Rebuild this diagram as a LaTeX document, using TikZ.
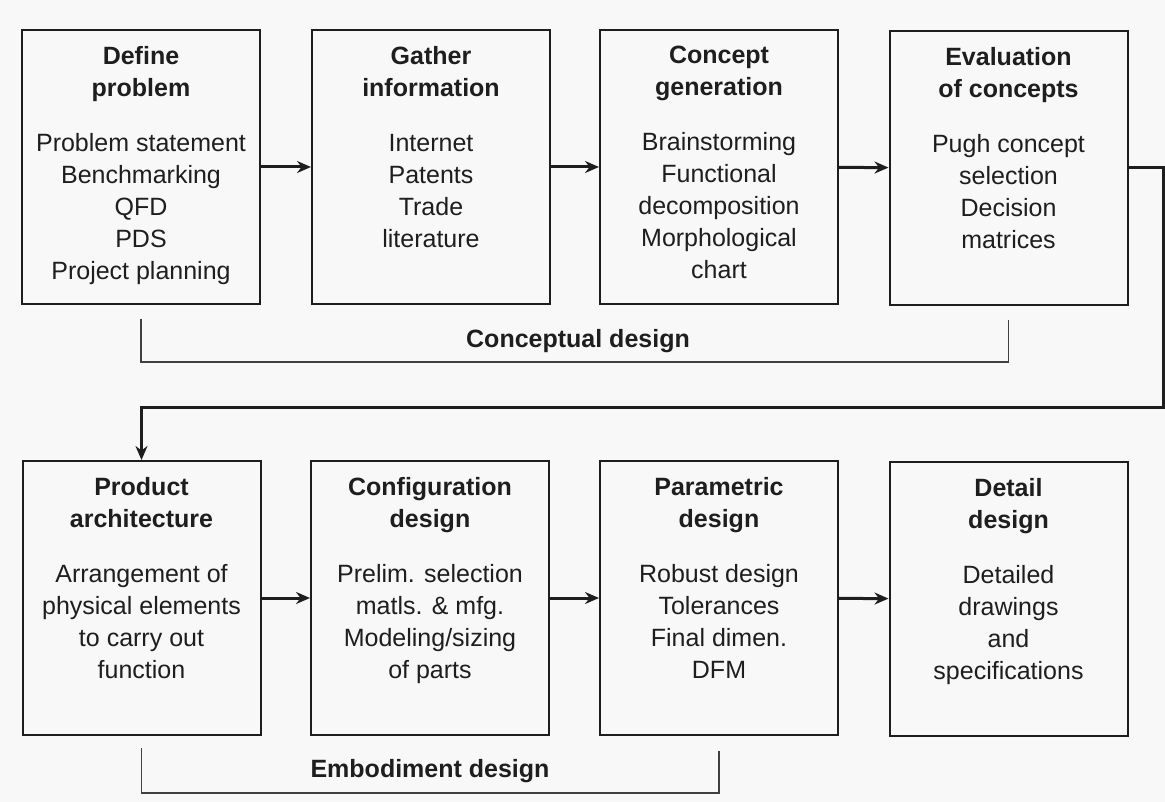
\documentclass[tikz,border=0pt]{standalone}
\usepackage{fontspec}
\setmainfont{Liberation Sans}
\usetikzlibrary{arrows.meta}
\definecolor{ink}{HTML}{1E1E1E}
\definecolor{paper}{HTML}{F8F8F8}
\begin{document}
\begin{tikzpicture}[x=1pt,y=-1pt,
  stepbox/.style={draw=ink, line width=2pt, minimum width=238pt, minimum height=274pt, inner sep=0pt},
  boxtext/.style={anchor=north, align=center, inner sep=0pt, text=ink,
    font=\fontsize{25}{32}\selectfont},
  phase/.style={inner sep=0pt, text=ink, font=\fontsize{25}{32}\selectfont\bfseries},
  flow/.style={draw=ink, line width=3pt, -{Stealth[length=14pt,width=12pt]}},
  bracket/.style={draw=ink!85, line width=1.6pt}]

% page
\fill[paper] (0,0) rectangle (1165,802);
\useasboundingbox (0,0) rectangle (1165,802);

% boxes, conceptual row
\node[stepbox] (b1) at (141,167) {};
\node[stepbox] (b2) at (431,167) {};
\node[stepbox] (b3) at (719,167) {};
\node[stepbox] (b4) at (1008.5,168) {};
% boxes, embodiment / detail row
\node[stepbox] (b5) at (141.5,598) {};
\node[stepbox] (b6) at (430,598) {};
\node[stepbox] (b7) at (719,598) {};
\node[stepbox] (b8) at (1008.5,599) {};

% box contents
\node[boxtext] (t1) at ([yshift=-17pt]b1.north)
  {\textbf{Define}\\\textbf{problem}\\[23pt]Problem statement\\Benchmarking\\QFD\\PDS\\Project planning};
\node[boxtext] (t2) at ([yshift=-17pt]b2.north)
  {\textbf{Gather}\\\textbf{information}\\[23pt]Internet\\Patents\\Trade\\literature};
\node[boxtext] (t3) at ([yshift=-17pt]b3.north)
  {\textbf{Concept}\\\textbf{generation}\\[23pt]Brainstorming\\Functional\\decomposition\\Morphological\\chart};
\node[boxtext] (t4) at ([yshift=-17pt]b4.north)
  {\textbf{Evaluation}\\\textbf{of concepts}\\[23pt]Pugh concept\\selection\\Decision\\matrices};
\node[boxtext] (t5) at ([yshift=-17pt]b5.north)
  {\textbf{Product}\\\textbf{architecture}\\[23pt]Arrangement of\\physical elements\\to carry out\\function};
\node[boxtext] (t6) at ([yshift=-17pt]b6.north)
  {\textbf{Configuration}\\\textbf{design}\\[23pt]Prelim. selection\\matls. \& mfg.\\Modeling/sizing\\of parts};
\node[boxtext] (t7) at ([yshift=-17pt]b7.north)
  {\textbf{Parametric}\\\textbf{design}\\[23pt]Robust design\\Tolerances\\Final dimen.\\DFM};
\node[boxtext] (t8) at ([yshift=-17pt]b8.north)
  {\textbf{Detail}\\\textbf{design}\\[23pt]Detailed\\drawings\\and\\specifications};

% flow between steps
\draw[flow] (b1) -- (b2);
\draw[flow] (b2) -- (b3);
\draw[flow] (b3) -- (b4);
\draw[flow] (b5) -- (b6);
\draw[flow] (b6) -- (b7);
\draw[flow] (b7) -- (b8);

% return path from the first row to the second
\coordinate (turnR) at (1163,407);
\draw[flow] (b4.east) -| (turnR) -| (b5.north);

% phase brackets
\draw[bracket] ([yshift=-14pt]b1.south) -- ++(0,-43pt) -| ([yshift=-14pt]b4.south);
\node[phase] (cd) at (578,341) {Conceptual design};
\draw[bracket] ([yshift=-12pt]b5.south) -- ++(0,-45pt) -| ([yshift=-15pt]b7.south);
\node[phase] (ed) at (430,771) {Embodiment design};
\end{tikzpicture}
\end{document}
